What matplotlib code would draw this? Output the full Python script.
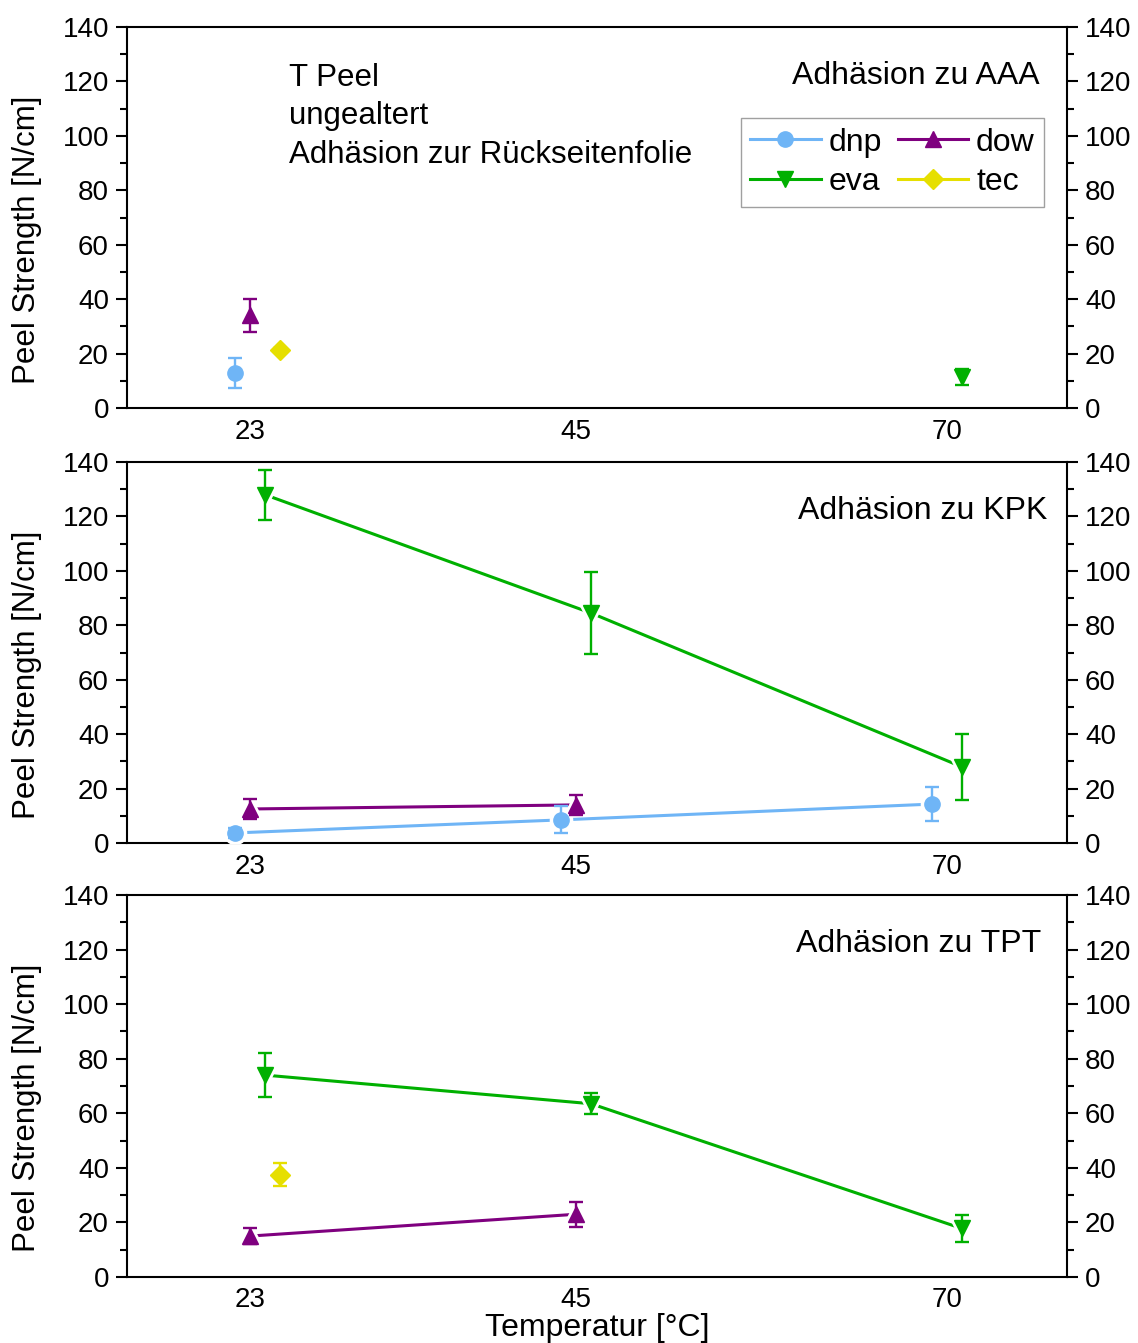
import numpy as np
import matplotlib
matplotlib.use("Agg")
import matplotlib.pyplot as plt
from matplotlib.ticker import MultipleLocator

plt.rcParams['font.family'] = ['Liberation Sans', 'DejaVu Sans']

# temperatures and per-series x shift so the points don't overlap
temps = [23, 45, 70]
shift = {"dnp": -1.0, "dow": 0.0, "eva": 1.0, "tec": 2.0}
colors = {"dnp": "#6fb5f6", "dow": "#7f007f", "eva": "#00b000", "tec": "#e6df00"}
markers = {"dnp": "o", "dow": "^", "eva": "v", "tec": "D"}

# peel strength [N/cm], nan = not measured
aaa_mean = {"dnp": [12.8, np.nan, np.nan], "dow": [34.0, np.nan, np.nan],
            "eva": [np.nan, np.nan, 11.4], "tec": [21.3, np.nan, np.nan]}
aaa_err = {"dnp": [5.5, 0, 0], "dow": [6.0, 0, 0],
           "eva": [0, 0, 2.8], "tec": [0.8, 0, 0]}

kpk_mean = {"dnp": [3.7, 8.5, 14.3], "dow": [12.5, 14.0, np.nan],
            "eva": [128.0, 84.5, 28.0], "tec": [np.nan, np.nan, np.nan]}
kpk_err = {"dnp": [1.8, 5.0, 6.2], "dow": [3.7, 3.7, 0],
           "eva": [9.2, 15.0, 12.2], "tec": [0, 0, 0]}

tpt_mean = {"dnp": [np.nan, np.nan, np.nan], "dow": [15.0, 23.0, np.nan],
            "eva": [74.0, 63.5, 17.8], "tec": [37.5, np.nan, np.nan]}
tpt_err = {"dnp": [0, 0, 0], "dow": [3.0, 4.6, 0],
           "eva": [8.0, 3.8, 5.0], "tec": [4.2, 0, 0]}

panels = [
    (aaa_mean, aaa_err, "Adhäsion zu AAA", 0.971),
    (kpk_mean, kpk_err, "Adhäsion zu KPK", 0.979),
    (tpt_mean, tpt_err, "Adhäsion zu TPT", 0.973),
]

order = ["dnp", "dow", "eva", "tec"]

fig = plt.figure(figsize=(11.38, 13.43), dpi=100)
tops = [27, 462, 895]
bots = [408, 843, 1277]
W, H = 1138.0, 1343.0
left, right = 127, 1067

handles = {}
for k, (means, errs, title, tx) in enumerate(panels):
    ax = fig.add_axes([left / W, 1 - bots[k] / H, (right - left) / W, (bots[k] - tops[k]) / H])
    for name in order:
        x = np.array(temps) + shift[name]
        y = np.array(means[name])
        e = np.array(errs[name])
        ok = ~np.isnan(y)
        if not ok.any():
            continue
        x, y, e = x[ok], y[ok], e[ok]
        c = colors[name]
        ms = 11 if name != "tec" else 10
        # connecting line, gapped around the markers
        ax.plot(x, y, color=c, lw=2.2, zorder=2)
        ax.plot(x, y, ls="none", marker=markers[name], ms=ms + 1, color=c,
                mec="white", mew=5, zorder=3)
        ax.errorbar(x, y, yerr=e, fmt="none", ecolor=c, elinewidth=1.7,
                    capsize=5, capthick=1.7, zorder=4)
        ax.plot(x, y, ls="none", marker=markers[name], ms=ms, color=c, zorder=5)
        handles[name] = ax.plot([], [], color=c, lw=2.2, marker=markers[name], ms=ms)[0]

    ax.set_xlim(14.7, 78.1)
    ax.set_ylim(0, 140)
    ax.set_xticks(temps)
    ax.set_xticklabels([str(t) for t in temps])
    ax.yaxis.set_major_locator(MultipleLocator(20))
    ax.yaxis.set_minor_locator(MultipleLocator(10))
    ax.tick_params(axis="x", length=0, labelsize=20, pad=8 if k < 2 else 7)
    ax.tick_params(axis="y", which="major", direction="out", length=8, width=1.5,
                   labelsize=20, pad=5, left=True, right=True,
                   labelleft=True, labelright=True)
    ax.tick_params(axis="y", which="minor", direction="out", length=5, width=1.5,
                   left=True, right=True)
    for sp in ax.spines.values():
        sp.set_linewidth(1.5)
    ax.set_ylabel("Peel Strength [N/cm]", fontsize=22.5)
    ax.yaxis.set_label_coords(-0.090, 0.442)
    ax.text(tx, 0.872, title, transform=ax.transAxes, ha="right", va="center", fontsize=23)

    if k == 0:
        ax.text(0.172, 0.905, "T Peel\nungealtert\nAdhäsion zur Rückseitenfolie",
                transform=ax.transAxes, ha="left", va="top", fontsize=22.5,
                linespacing=1.36)
        leg = ax.legend([handles["dnp"], handles["eva"], handles["dow"], handles["tec"]],
                        ["dnp", "eva", "dow", "tec"], ncol=2, loc="upper right",
                        bbox_to_anchor=(0.976, 0.761), borderaxespad=0, fontsize=23,
                        frameon=True, fancybox=False, edgecolor="#888888",
                        handlelength=2.2, handletextpad=0.25, columnspacing=0.5,
                        labelspacing=0.3, borderpad=0.3)
        leg.get_frame().set_linewidth(1.0)
    if k == 2:
        ax.set_xlabel("Temperatur [°C]", fontsize=23, labelpad=0)

fig.savefig("out.png", dpi=100)
